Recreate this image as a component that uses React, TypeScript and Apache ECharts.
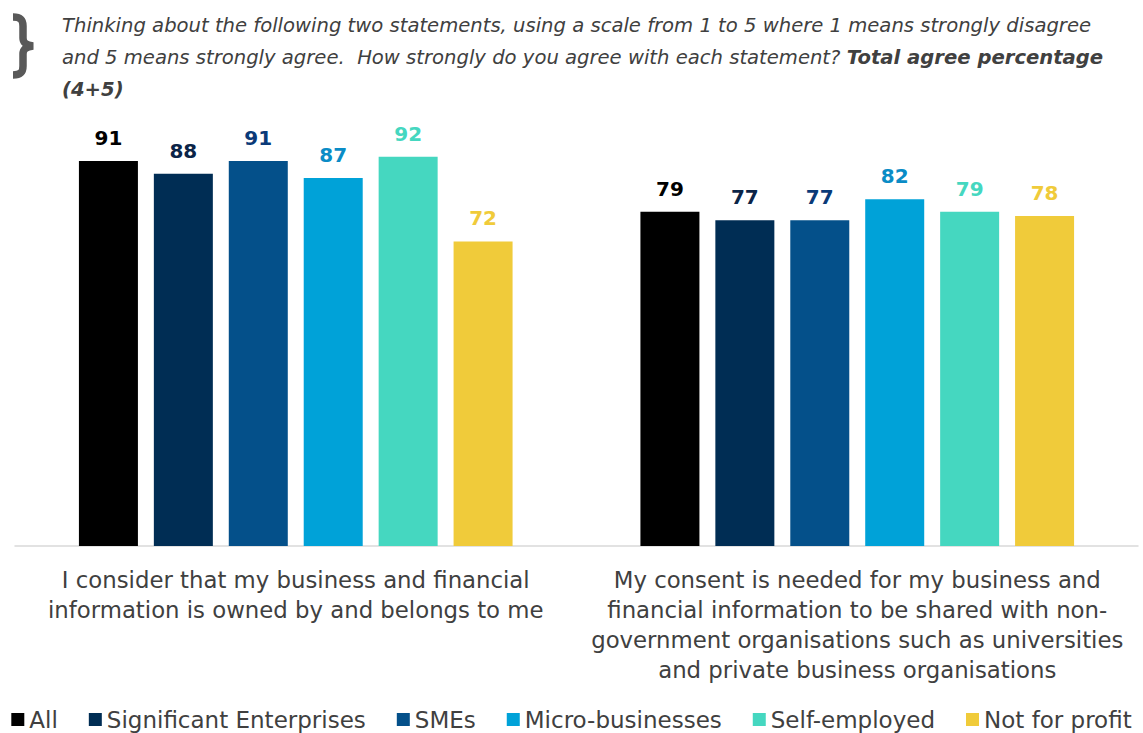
import React, { useEffect, useRef } from "react";
import * as echarts from "echarts";

const categories = [
  "I consider that my business and financial\ninformation is owned by and belongs to me",
  "My consent is needed for my business and\nfinancial information to be shared with non-\ngovernment organisations such as universities\nand private business organisations",
];

const seriesNames = [
  "All",
  "Significant Enterprises",
  "SMEs",
  "Micro-businesses",
  "Self-employed",
  "Not for profit",
];

const allValues = [91, 79];
const significantValues = [88, 77];
const smeValues = [91, 77];
const microValues = [87, 82];
const selfEmployedValues = [92, 79];
const notForProfitValues = [72, 78];

const seriesValues = [
  allValues,
  significantValues,
  smeValues,
  microValues,
  selfEmployedValues,
  notForProfitValues,
];

const barColors = ["#000000", "#002D54", "#04508A", "#00A2D8", "#45D7C0", "#F0CB3A"];
const labelColors = ["#000000", "#0B2447", "#0A3A78", "#0A8CC6", "#45D7C0", "#F0CB3A"];

const bracePath =
  "M2,3 C10,3 12,6 12,12 L12,24 C12,29 15,31 22,32 C15,33 12,35 12,40 L12,52 C12,58 10,61 2,61";

export default function App() {
  const ref = useRef<HTMLDivElement>(null);

  useEffect(() => {
    document.body.style.margin = "0";
    if (!ref.current) return;
    echarts.graphic.registerShape("brace", echarts.graphic.extendPath(bracePath, {}));
    const chart = echarts.init(ref.current, null, { renderer: "svg" });
    const option: any = {
      animation: false,
      backgroundColor: "#ffffff",
      grid: { left: 15, right: 5, top: 123, bottom: 187, containLabel: false },
      legend: {
        data: seriesNames,
        left: "center",
        top: 703,
        icon: "rect",
        itemWidth: 13,
        itemHeight: 13,
        itemGap: 31,
        textStyle: { fontFamily: "DejaVu Sans", fontSize: 23, color: "#404040" },
      },
      xAxis: {
        type: "category",
        data: categories,
        axisLine: { show: true, lineStyle: { color: "#d9d9d9", width: 1.5 } },
        axisTick: { show: false },
        axisLabel: {
          interval: 0,
          margin: 19,
          fontFamily: "DejaVu Sans",
          fontSize: 22.8,
          lineHeight: 30,
          color: "#404040",
          align: "center",
        },
      },
      yAxis: {
        type: "value",
        min: 0,
        max: 100,
        show: false,
        splitLine: { show: false },
      },
      series: seriesNames.map((name, i) => ({
        name,
        type: "bar",
        data: seriesValues[i],
        barWidth: 59,
        barGap: "27%",
        itemStyle: { color: barColors[i] },
        label: {
          show: true,
          position: "top",
          distance: 13,
          fontFamily: "DejaVu Sans",
          fontWeight: "bold",
          fontSize: 20,
          color: labelColors[i],
        },
      })),
      graphic: [
        {
          type: "brace",
          x: 11,
          y: 14,
          style: {
            fill: "none",
            stroke: "#595959",
            lineWidth: 7.5,
          },
        },
        {
          type: "text",
          x: 62,
          y: 9,
          style: {
            text:
              "{a|Thinking about the following two statements, using a scale from 1 to 5 where 1 means strongly disagree}\n" +
              "{a|and 5 means strongly agree.  How strongly do you agree with each statement? }{b|Total agree percentage}\n" +
              "{b|(4+5)}",
            rich: {
              a: {
                fontFamily: "DejaVu Sans",
                fontStyle: "italic",
                fontSize: 19.6,
                lineHeight: 32,
                fill: "#404040",
              },
              b: {
                fontFamily: "DejaVu Sans",
                fontStyle: "italic",
                fontWeight: "bold",
                fontSize: 19.6,
                lineHeight: 32,
                fill: "#404040",
              },
            },
          },
        },
      ],
    };
    chart.setOption(option);
    return () => chart.dispose();
  }, []);

  return <div ref={ref} style={{ width: 1143, height: 733 }} />;
}
